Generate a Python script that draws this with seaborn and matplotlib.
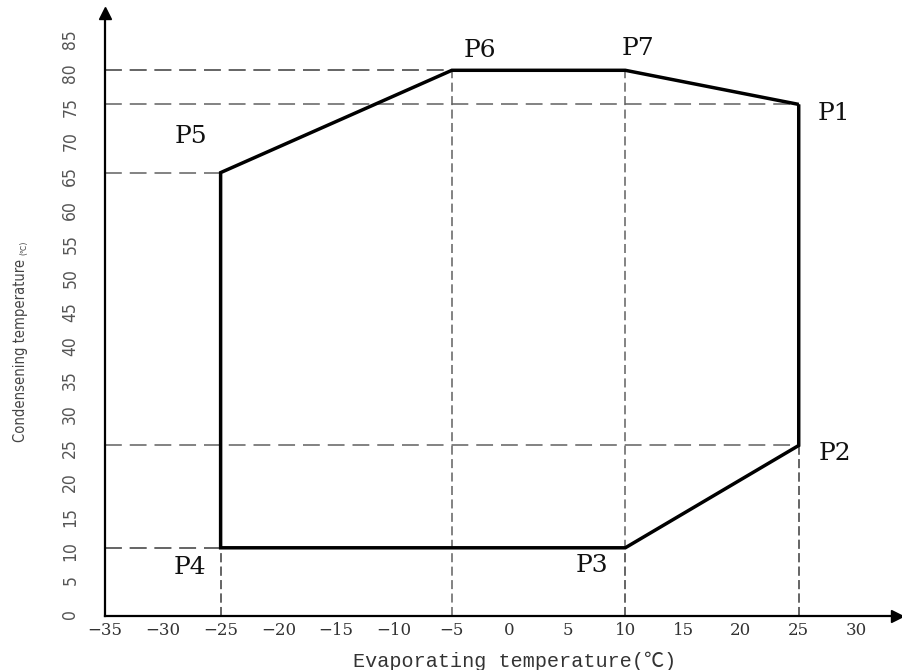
import matplotlib
matplotlib.use("Agg")
import matplotlib.pyplot as plt
import seaborn as sns
import pandas as pd

# operating envelope corner points
point_names = ["P1", "P2", "P3", "P4", "P5", "P6", "P7"]
evap_temp = [25, 25, 10, -25, -25, -5, 10]
cond_temp = [75, 25, 10, 10, 65, 80, 80]

x_ticks = list(range(-35, 31, 5))
y_ticks = list(range(0, 86, 5))

x_label = "Evaporating temperature(℃)"
y_label = "Condensening temperature"
y_unit = "(℃)"

sns.set_style("white")
plt.rcParams['font.family'] = ['DejaVu Serif', 'DejaVu Sans', 'Noto Sans CJK SC']
plt.rcParams['axes.unicode_minus'] = True

# label offsets in points from each corner
label_offsets = {
    "P1": (25, -6.5), "P2": (26, -6), "P3": (-24, -13), "P4": (-22, -14),
    "P5": (-21.5, 26), "P6": (20, 14), "P7": (9, 16),
}

df = pd.DataFrame({
    "evap": evap_temp + evap_temp[:1],
    "cond": cond_temp + cond_temp[:1],
})

fig = plt.figure(figsize=(9.03, 6.70), dpi=100)
W, H = 903, 670
ax = fig.add_axes([105 / W, 1 - 616 / H, (897 - 105) / W, (616 - 13) / H])
x_min, x_max = -35, 33.5
y_min, y_max = 0, 88.4

# dashed guide lines from the axes to each corner
ax.hlines(cond_temp, x_min, evap_temp, colors="#606060", lw=1.1,
          linestyles=[(0, (11, 5.2))], zorder=1)
ax.vlines(evap_temp, y_min, cond_temp, colors="#606060", lw=1.1,
          linestyles=[(0, (5.9, 2.9))], zorder=1)

sns.lineplot(data=df, x="evap", y="cond", sort=False, estimator=None,
             color="black", lw=2.5, ax=ax, zorder=3,
             solid_joinstyle="miter", solid_capstyle="butt")

for name, x, y in zip(point_names, evap_temp, cond_temp):
    ax.annotate(name, (x, y), xytext=label_offsets[name], textcoords="offset points",
                ha="center", va="center", fontsize=18, family="DejaVu Serif", color="#111")

ax.set_xlim(x_min, x_max)
ax.set_ylim(y_min, y_max)
ax.set_xticks(x_ticks)
ax.set_yticks(y_ticks)
ax.set_xlabel("")
ax.set_ylabel("")

sns.despine(ax=ax)
for side in ["left", "bottom"]:
    ax.spines[side].set_linewidth(1.6)
    ax.spines[side].set_color("black")

ax.plot(1, 0, ">", color="black", ms=8, transform=ax.transAxes, clip_on=False)
ax.plot(0, 1, "^", color="black", ms=8, transform=ax.transAxes, clip_on=False)

ax.tick_params(axis="x", direction="in", length=3, width=1.5, pad=4,
               labelsize=12, labelcolor="#333333", color="black")
ax.tick_params(axis="y", direction="in", length=5, width=1.2, pad=18.5,
               labelsize=12.5, labelcolor="#555555", color="black", labelrotation=90)
for lab in ax.get_xticklabels():
    lab.set_family("DejaVu Serif")
for lab in ax.get_yticklabels():
    lab.set_family("DejaVu Sans")
    lab.set_stretch("condensed")

fig.text(21 / W, 1 - 350 / H, y_label, rotation=90, ha="center", va="center",
         fontsize=10.5, family="DejaVu Sans", stretch="condensed", color="#444444")
fig.text(24 / W, 1 - 248 / H, y_unit, rotation=90, ha="center", va="center",
         fontsize=6, family=["DejaVu Sans", "Noto Sans CJK SC"], stretch="condensed",
         color="#444444")
fig.text(515 / W, 1 - 667 / H, x_label, ha="center", va="baseline", fontsize=14.5,
         family=["Liberation Mono", "DejaVu Sans Mono", "Noto Sans CJK SC"], color="#333333")

fig.savefig("out.png", dpi=100)
